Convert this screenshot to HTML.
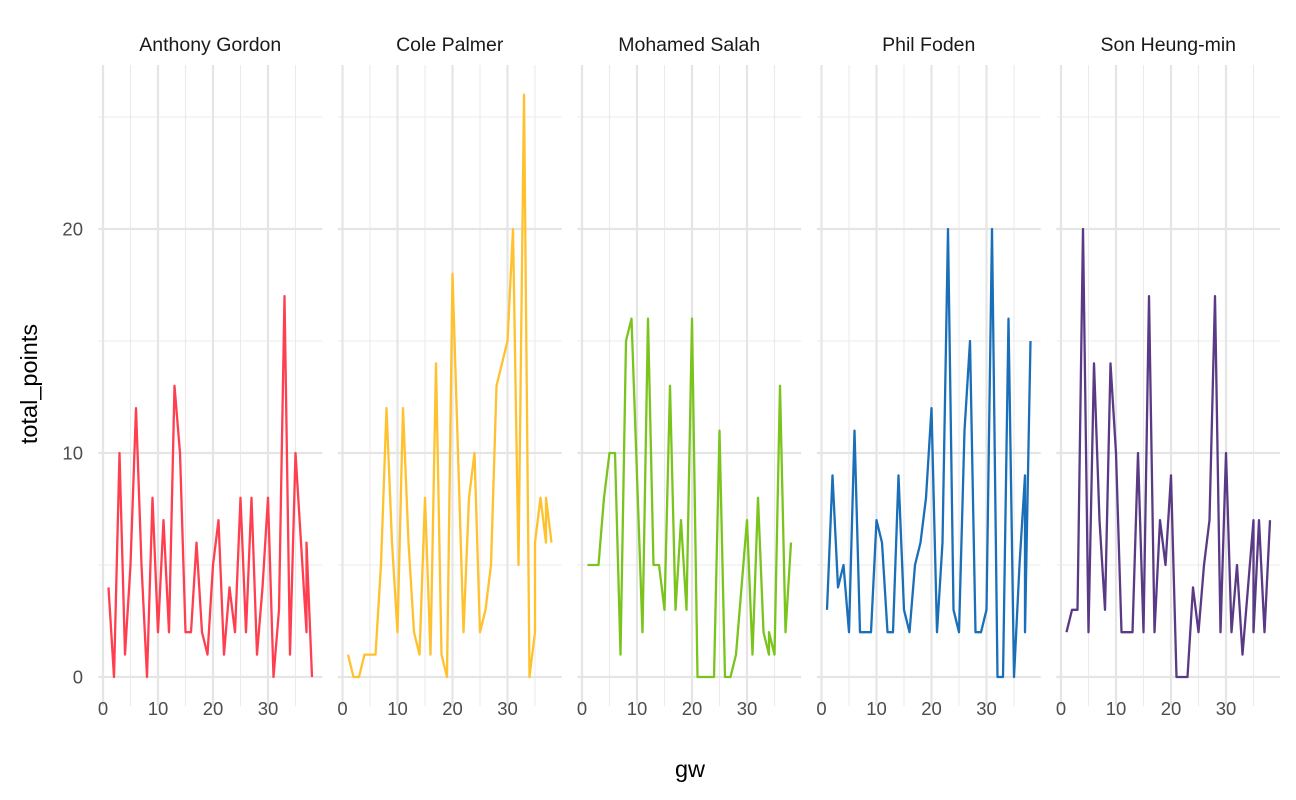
<!DOCTYPE html>
<html><head><meta charset="utf-8"><style>
html,body{margin:0;padding:0;background:#fff}
svg{display:block;font-family:"Liberation Sans",Arial,sans-serif}
</style></head><body>
<svg id="chart" width="1296" height="800"></svg>
<script>
const players = ["Anthony Gordon","Cole Palmer","Mohamed Salah","Phil Foden","Son Heung-min"];
const colors = ["#FF3F50","#FFC12E","#7BC41E","#1A6FB8","#5A3A85"];
const gwAG = [1,2,3,4,5,6,7,8,9,10,11,12,13,14,15,16,17,18,19,20,21,22,23,24,25,26,27,28,29,30,31,32,33,34,35,36,37,37,38];
const ptsAG = [4,0,10,1,5,12,5,0,8,2,7,2,13,10,2,2,6,2,1,5,7,1,4,2,8,2,8,1,4,8,0,3,17,1,10,6,2,6,0];
const gwCP = [1,2,3,4,5,6,7,8,9,10,11,12,13,14,15,16,17,18,19,20,21,22,23,24,25,26,27,28,29,30,31,32,33,34,35,35,36,37,37,38];
const ptsCP = [1,0,0,1,1,1,5,12,6,2,12,6,2,1,8,1,14,1,0,18,10,2,8,10,2,3,5,13,14,15,20,5,26,0,2,6,8,6,8,6];
const gwMS = [1,2,3,4,5,6,7,8,9,10,11,12,13,14,15,16,17,18,19,20,21,22,23,24,25,26,27,28,29,30,31,32,33,34,34,35,36,37,38];
const ptsMS = [5,5,5,8,10,10,1,15,16,9,2,16,5,5,3,13,3,7,3,16,0,0,0,0,11,0,0,1,4,7,1,8,2,1,2,1,13,2,6];
const gwPF = [1,2,3,4,5,6,7,8,9,10,11,12,13,14,15,16,17,18,19,20,21,22,23,24,25,26,27,28,29,30,31,32,33,34,35,36,37,37,38];
const ptsPF = [3,9,4,5,2,11,2,2,2,7,6,2,2,9,3,2,5,6,8,12,2,6,20,3,2,11,15,2,2,3,20,0,0,16,0,5,9,2,15];
const gwSH = [1,2,3,4,5,6,7,8,9,10,11,12,13,14,15,16,17,18,19,20,21,22,23,24,25,26,27,28,29,30,31,32,33,34,35,35,36,37,38];
const ptsSH = [2,3,3,20,2,14,7,3,14,10,2,2,2,10,2,17,2,7,5,9,0,0,0,4,2,5,7,17,2,10,2,5,1,4,7,2,7,2,7];
const xTicks = [0,10,20,30];
const xMinor = [5,15,25,35];
const yTicks = [0,10,20];
const yMinor = [5,15,25];

const gwSets = [gwAG,gwCP,gwMS,gwPF,gwSH];
const ptSets = [ptsAG,ptsCP,ptsMS,ptsPF,ptsSH];
const NS = "http://www.w3.org/2000/svg";
const svgEl = document.getElementById("chart");
function mk(tag, attrs, parent){const e=document.createElementNS(NS,tag);for(const k in attrs)e.setAttribute(k,attrs[k]);(parent||svgEl).appendChild(e);return e;}
const yS = v => 677 - v*22.4;
const panelX0 = i => 103 + 239.5*i;
const xs = (i,g) => panelX0(i) + g*5.5;
const topY = 65, botY = 706;

players.forEach((name,i)=>{
  const g = mk("g",{});
  
  
  const left = xs(i,-0.85), right = xs(i,39.85);
  yMinor.forEach(v=>mk("line",{x1:left,x2:right,y1:yS(v),y2:yS(v),stroke:"#ebebeb","stroke-width":1.1},g));
  xMinor.forEach(v=>mk("line",{x1:xs(i,v),x2:xs(i,v),y1:topY,y2:botY,stroke:"#ebebeb","stroke-width":1.1},g));
  yTicks.forEach(v=>mk("line",{x1:left,x2:right,y1:yS(v),y2:yS(v),stroke:"#e5e5e5","stroke-width":2.2},g));
  xTicks.forEach(v=>mk("line",{x1:xs(i,v),x2:xs(i,v),y1:topY,y2:botY,stroke:"#e5e5e5","stroke-width":2.2},g));
  const gws = gwSets[i], pts = ptSets[i];
  const d = gws.map((gv,k)=>(k?"L":"M")+xs(i,gv).toFixed(1)+","+yS(pts[k]).toFixed(1)).join("");
  const p = mk("path",{d:d,fill:"none",stroke:colors[i],"stroke-width":2.3,"stroke-linejoin":"round"},g);
  
  
  const t = mk("text",{x:(left+right)/2,y:51,"text-anchor":"middle","font-size":19.5,fill:"#1a1a1a"},g);
  t.textContent = name;
  
  
  xTicks.forEach(v=>{
    const tt = mk("text",{x:xs(i,v),y:715,"text-anchor":"middle","font-size":18.5,fill:"#4d4d4d"},g);
    tt.textContent = v;
    
    
  });
});
yTicks.forEach(v=>{
  const tt = mk("text",{x:83,y:yS(v)+6.5,"text-anchor":"end","font-size":18.5,fill:"#4d4d4d"});
  tt.textContent = v;
  
  
});
const xt = mk("text",{x:690,y:777,"text-anchor":"middle","font-size":23.5,fill:"#000"});
xt.textContent = "gw";


const yt = mk("text",{x:0,y:0,"text-anchor":"middle","font-size":23.5,fill:"#000",transform:"translate(37,384) rotate(-90)"});
yt.textContent = "total_points";


</script>
</body></html>
